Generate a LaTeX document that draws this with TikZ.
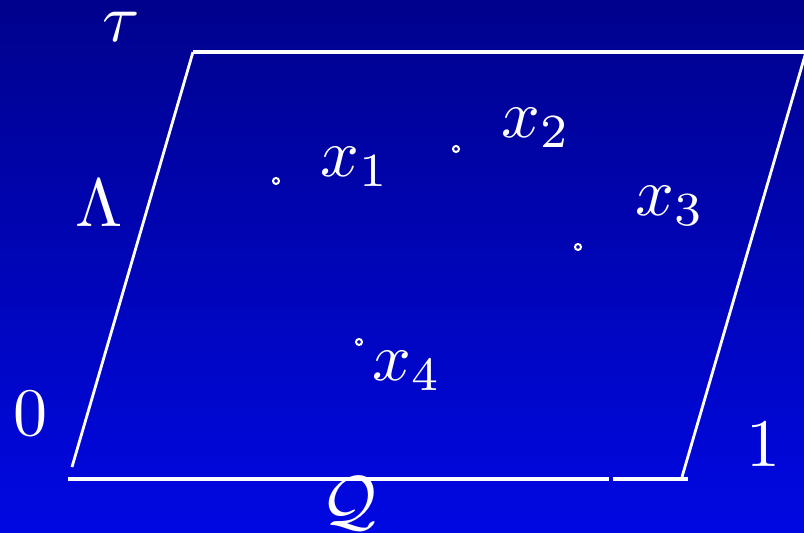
\documentclass[tikz,border=0pt]{standalone}
\usepackage{amsmath}
\usepackage{xcolor}
\usepackage{tikz}
\definecolor{slideTop}{RGB}{0,2,140}
\definecolor{slideBottom}{RGB}{0,8,226}
\tikzset{
  cell edge/.style={draw=white, line width=1.4pt},
  cell top/.style={draw=white, line width=1.6pt},
  base line/.style={draw=white, line width=1.9pt},
  marked point/.style={circle, draw=white, line width=1pt, fill=none,
    minimum size=3pt, inner sep=0pt},
  big label/.style={text=white, inner sep=0pt, font=\normalsize,
    scale=3.4, transform shape}
}

\begin{document}
\begin{tikzpicture}[x=0.5pt, y=-0.5pt]
  \shade[top color=slideTop, bottom color=slideBottom]
    (0,0) rectangle (804,533);
  \useasboundingbox (0,0) rectangle (804,533);
  % corners of the cell
  \coordinate (origin) at (72,467);
  \coordinate (tauc) at (193,52);
  \coordinate (far) at (806,52);
  \coordinate (onec) at (682,477);
  \draw[cell edge] (origin) -- (tauc);
  \draw[cell top] (tauc) -- (far);
  \draw[cell edge] (far) -- (onec);
  % base segment Q
  \coordinate (qa) at (68,479);
  \coordinate (qb) at (609,479);
  \coordinate (qc) at (613,479);
  \coordinate (qd) at (688,479);
  \draw[base line] (qa) -- (qb);
  \draw[base line] (qc) -- (qd);
  % labels
  \node[big label] (tau) at (121,27) {$\tau$};
  \node[big label] (lam) at (99,203) {$\Lambda$};
  \node[big label] (zero) at (30,414) {$0$};
  \node[big label] (one) at (763,445) {$1$};
  \node[big label] (qlab) at (349,504) {$\mathcal{Q}$};
  % points
  \node[marked point] (p1) at (276,181) {};
  \node[marked point] (p2) at (456,149) {};
  \node[marked point] (p3) at (578,247) {};
  \node[marked point] (p4) at (359,342) {};
  \node[big label] (x1) at (355,167) {$x_1$};
  \node[big label] (x2) at (536,128) {$x_2$};
  \node[big label] (x3) at (670,206) {$x_3$};
  \node[big label] (x4) at (407,371) {$x_4$};
\end{tikzpicture}
\end{document}
